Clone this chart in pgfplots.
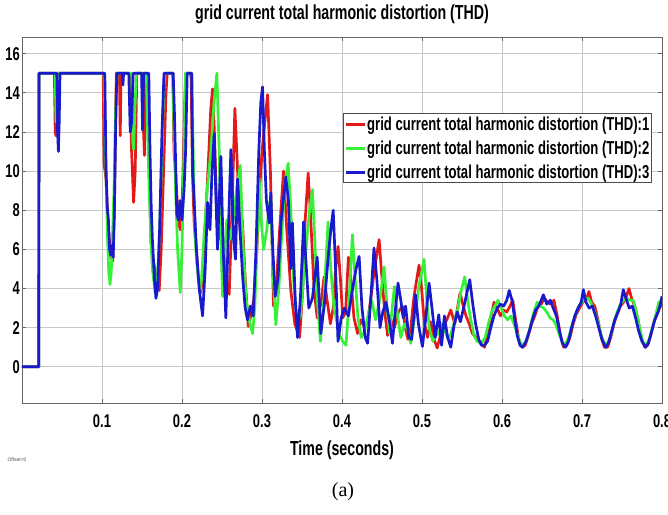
\documentclass[border=0pt]{standalone}
\usepackage{fontspec}
\setmainfont{Liberation Sans}
\newfontfamily\scopefnt[FakeStretch=0.7]{Liberation Sans}
\newfontfamily\capfont{Liberation Serif}
\usepackage{pgfplots}
\usepackage{pgfplotstable}
\pgfplotsset{compat=1.18}
\definecolor{sred}{RGB}{228,25,25}
\definecolor{sgreen}{RGB}{55,240,55}
\definecolor{sblue}{RGB}{25,25,205}

\pgfplotstableread{
t v
0 0
0.021 0
0.0212 15
0.0405 15
0.0415 12
0.0425 11.8
0.0435 15
0.1015 15
0.1025 10.4
0.105 9.6
0.108 7
0.111 5.6
0.1135 5.4
0.1155 8
0.117 13
0.118 15
0.1218 15
0.1228 11.8
0.1238 15
0.1345 15
0.137 11
0.1395 8.4
0.1415 10
0.1435 15
0.150 15
0.1515 12.5
0.153 10.8
0.1545 15
0.157 15
0.159 10
0.1612 6.4
0.164 5.5
0.168 4.5
0.1715 3.9
0.174 6
0.177 10
0.180 14
0.1815 15
0.1885 15
0.190 11
0.192 9.9
0.194 8.5
0.196 7.3
0.198 7
0.200 8
0.2025 12
0.2045 15
0.2105 15
0.2115 14.7
0.213 10
0.2153 7.2
0.2175 6.3
0.2205 4.5
0.2236 3.8
0.227 5
0.230 8
0.233 10.5
0.236 13.2
0.2382 14.2
0.2405 12
0.243 8.5
0.246 6.5
0.249 7.2
0.252 6
0.255 4.5
0.259 3.7
0.2625 8
0.2661 13.2
0.269 10.5
0.2725 7
0.2755 7.5
0.279 4.5
0.2828 2.06
0.286 2.6
0.290 3.5
0.293 5.5
0.297 9
0.300 11
0.3035 12.5
0.307 13.9
0.3105 10
0.3144 3.1
0.318 4.2
0.322 7
0.3269 10.0
0.331 7
0.336 3.9
0.341 2.2
0.347 1.5
0.351 4
0.354 7.5
0.3577 9.9
0.361 7.5
0.365 4
0.369 2.5
0.3735 3.2
0.3777 4.6
0.381 3.5
0.3855 2.2
0.389 3
0.3925 5.2
0.3951 6.15
0.398 4.5
0.401 2.5
0.4045 2.8
0.408 5.6
0.411 4.5
0.415 2.5
0.4195 1.7
0.4235 2.4
0.4277 2.06
0.432 2.3
0.436 3.5
0.440 4.8
0.4464 6.5
0.450 4.5
0.4535 2.8
0.457 1.6
0.461 2.4
0.4655 2.0
0.4705 2.8
0.4755 3.1
0.479 2.0
0.4825 1.4
0.486 2.0
0.490 3.6
0.4963 5.2
0.4995 4.0
0.503 2.2
0.507 1.5
0.511 2.3
0.515 1.4
0.519 0.96
0.523 1.6
0.527 2.1
0.531 2.4
0.536 2.9
0.541 2.2
0.5476 3.77
0.551 3.2
0.555 2.6
0.559 2.2
0.563 1.7
0.568 1.5
0.573 1.2
0.578 1.0
0.583 1.8
0.587 2.7
0.590 3.3
0.594 3.0
0.598 2.6
0.602 2.9
0.606 2.8
0.610 3.1
0.6135 3.4
0.617 2.4
0.621 1.4
0.625 1.0
0.629 1.1
0.633 1.6
0.637 2.2
0.641 2.6
0.645 3.1
0.649 3.2
0.653 3.5
0.657 3.3
0.661 3.2
0.665 3.4
0.669 2.6
0.673 1.6
0.677 1.0
0.681 1.1
0.685 1.5
0.689 2.2
0.693 2.7
0.697 3.0
0.701 3.3
0.705 3.4
0.7087 3.85
0.712 3.3
0.716 3.1
0.720 2.4
0.724 1.5
0.728 1.0
0.732 1.0
0.736 1.5
0.740 2.2
0.744 2.7
0.748 3.1
0.752 3.3
0.7555 3.6
0.7587 4.0
0.762 3.5
0.766 3.1
0.770 2.4
0.774 1.5
0.7785 1.0
0.782 1.1
0.786 1.6
0.790 2.3
0.794 2.7
0.797 3.0
0.800 3.2
}\redtab

\pgfplotstableread{
t v
0 0
0.021 0
0.0212 15
0.0415 15
0.0425 12.5
0.0435 15
0.1025 15
0.104 12
0.1055 9
0.107 6.5
0.1085 4.8
0.110 4.2
0.1115 4.8
0.113 6.5
0.115 9
0.117 13
0.119 15
0.137 15
0.1385 11.5
0.1395 11.1
0.141 13
0.143 15
0.1555 15
0.157 12
0.159 9
0.161 6.5
0.163 5
0.1665 3.8
0.169 4.3
0.172 7
0.175 11
0.177 14
0.1785 15
0.1885 15
0.190 12
0.192 9
0.1945 6
0.1978 3.8
0.200 6
0.2025 11
0.2045 15
0.2125 15
0.214 11
0.216 7
0.218 5.5
0.2205 4.5
0.2225 3.8
0.2245 4.5
0.228 7
0.232 9.3
0.236 11
0.240 13.5
0.2436 15
0.2465 11
0.249 6
0.2507 3.6
0.253 5.5
0.256 7.5
0.260 6.5
0.264 7.5
0.268 9
0.2728 10.3
0.276 6.5
0.280 3.5
0.2845 2.3
0.2882 1.7
0.291 3
0.2935 6
0.2965 9.6
0.299 7.5
0.302 6
0.306 7
0.309 8.2
0.311 8.7
0.3135 5
0.3173 2.15
0.321 4
0.325 7
0.329 9.5
0.3327 10.4
0.336 8
0.340 4
0.344 2.3
0.348 2.6
0.352 4.5
0.356 6.5
0.3595 8
0.363 9.05
0.366 6.5
0.369 3.5
0.373 1.3
0.3775 3.5
0.3826 7.4
0.386 5
0.390 3
0.394 2.2
0.397 1.6
0.401 1.3
0.405 1.1
0.409 3.5
0.413 6.75
0.4165 4.5
0.420 2.5
0.424 1.5
0.428 1.8
0.432 2.5
0.437 3.4
0.442 2.4
0.4475 3.5
0.4526 5.1
0.456 3.2
0.4595 1.7
0.4655 4.1
0.4695 2.6
0.4735 1.5
0.478 2.2
0.482 1.9
0.486 1.2
0.491 2.6
0.4965 4.2
0.5026 5.5
0.506 3.4
0.509 2
0.5135 1.3
0.517 1.6
0.521 1.7
0.525 2.2
0.529 1.8
0.533 1.4
0.537 1.8
0.541 2.4
0.545 3
0.549 3.9
0.5534 4.6
0.557 3.4
0.561 2.4
0.565 1.6
0.569 1.3
0.574 1.2
0.579 1.5
0.583 2.2
0.587 2.8
0.591 3.1
0.595 3.4
0.599 3.0
0.603 2.6
0.607 2.4
0.611 2.6
0.615 2.2
0.619 1.7
0.623 1.2
0.627 1.1
0.631 1.4
0.635 2.0
0.639 2.7
0.644 3.3
0.648 3.1
0.652 3.0
0.656 2.8
0.660 2.5
0.664 2.4
0.668 2.1
0.672 1.6
0.676 1.2
0.680 1.2
0.684 1.6
0.688 2.2
0.692 2.7
0.696 3.1
0.700 3.3
0.704 3.5
0.708 3.5
0.712 3.2
0.716 2.8
0.720 2.3
0.724 1.6
0.728 1.2
0.732 1.2
0.736 1.6
0.740 2.3
0.744 2.8
0.748 3.2
0.752 3.4
0.756 3.5
0.760 3.4
0.764 3.4
0.768 2.8
0.772 2.0
0.776 1.3
0.780 1.1
0.784 1.4
0.788 2.0
0.792 2.6
0.796 3.3
0.800 3.4
}\greentab

\pgfplotstableread{
t v
0 0
0.021 0
0.0212 15
0.0435 15
0.0445 12
0.0455 11
0.0465 12.5
0.0475 15
0.1035 15
0.105 10.2
0.1065 8.2
0.108 7.5
0.1095 6
0.111 5.7
0.1125 6.2
0.114 5.6
0.1155 8
0.117 12
0.1185 15
0.1255 15
0.1262 14.4
0.127 15
0.1335 15
0.1353 12
0.137 12.5
0.139 15
0.1495 15
0.1507 12.1
0.152 15
0.1585 15
0.160 11
0.1615 8.2
0.163 6.5
0.1655 4.5
0.1674 3.5
0.1695 4
0.172 7
0.175 12
0.1775 15
0.189 15
0.1905 13
0.192 10.5
0.1935 7.8
0.1955 7.5
0.1975 8.5
0.200 7.5
0.2025 9
0.2045 11
0.2065 15
0.212 15
0.2135 10
0.2155 8.2
0.218 6
0.2215 4
0.2257 2.6
0.229 5
0.232 8.4
0.235 7
0.2375 10
0.2403 11.9
0.2425 8.5
0.2444 6.0
0.2465 8.5
0.2486 10.75
0.2515 6
0.2548 2.5
0.258 7
0.2611 11.1
0.2645 6.5
0.2669 5.5
0.2694 9.6
0.2725 7
0.276 4.5
0.279 3
0.2819 2.4
0.2855 3.1
0.289 2.6
0.2925 6
0.296 11
0.2985 13.5
0.3007 14.3
0.303 11
0.3055 8.5
0.309 7.35
0.311 8.9
0.3135 6
0.3165 3.6
0.320 4.5
0.324 7.5
0.3298 9.7
0.333 8.5
0.336 5
0.338 7.35
0.3415 3.5
0.3444 1.5
0.348 3.5
0.352 7.4
0.3555 5
0.3585 3
0.363 3.5
0.369 5.6
0.3735 1.7
0.378 3.2
0.3825 5.5
0.386 7
0.389 8.0
0.392 5
0.395 1.3
0.399 2.5
0.403 3
0.408 2.6
0.4125 3.8
0.4175 5
0.4214 5.64
0.425 3
0.429 1.5
0.432 1.2
0.436 3.5
0.440 6.07
0.4435 4.5
0.4475 2
0.451 2.8
0.455 3.3
0.4595 2.3
0.463 1.2
0.466 2.6
0.470 4.28
0.4735 3.4
0.4765 2.5
0.4795 3.1
0.4835 1.5
0.487 1.4
0.490 2.6
0.492 3.68
0.4955 2.2
0.5005 1.04
0.5045 2.4
0.5088 4.28
0.5125 3
0.5165 1.5
0.521 2.66
0.5245 1.1
0.528 2.6
0.532 1.5
0.536 1.0
0.540 2.1
0.544 2.8
0.548 2.3
0.552 3
0.5597 4.45
0.5635 3.2
0.567 2.2
0.571 1.4
0.5745 1.1
0.578 1.1
0.582 1.3
0.586 2.0
0.590 2.6
0.594 3.0
0.598 3.2
0.602 3.1
0.606 3.4
0.609 3.9
0.6125 3.4
0.616 2.4
0.619 1.6
0.6225 1.1
0.626 1.0
0.630 1.3
0.634 1.8
0.638 2.4
0.642 2.9
0.646 3.1
0.6517 3.68
0.656 3.2
0.6605 3.4
0.664 3.0
0.668 2.6
0.672 1.8
0.6755 1.2
0.6795 1.0
0.683 1.3
0.687 2.0
0.691 2.6
0.695 3.0
0.699 3.3
0.7017 3.94
0.705 3.3
0.709 3.0
0.713 3.1
0.717 2.6
0.721 2.0
0.725 1.4
0.7295 1.0
0.733 1.2
0.737 1.8
0.741 2.4
0.745 2.8
0.7485 3.2
0.7516 3.94
0.755 3.5
0.759 3.0
0.763 3.1
0.767 2.5
0.771 1.8
0.775 1.3
0.7795 1.0
0.783 1.2
0.787 1.8
0.791 2.4
0.795 2.8
0.798 3.2
0.800 3.6
}\bluetab

\begin{document}
\begin{tikzpicture}
\path[use as bounding box] (-22pt,-111pt) rectangle (646pt,403pt);
\begin{axis}[
  at={(0pt,0pt)}, anchor=south west,
  scale only axis, width=640pt, height=366pt,
  xmin=0, xmax=0.8, ymin=-1.85, ymax=16.85,
  xtick={0.1,0.2,0.3,0.4,0.5,0.6,0.7,0.8},
  xticklabels={0.1,0.2,0.3,0.4,0.5,0.6,0.7,0.8},
  ytick={0,2,4,6,8,10,12,14,16},
  yticklabels={0,2,4,6,8,10,12,14,16},
  grid=major,
  major grid style={black!22, line width=0.7pt},
  axis line style={black!60, line width=0.9pt},
  tick style={black!60, line width=0.7pt},
  tick align=inside, major tick length=4pt,
  /pgf/number format/assume math mode=true,
  xticklabel style={font=\scopefnt\bfseries\fontsize{18.5}{18.5}\selectfont, inner sep=0pt, anchor=north, yshift=-11pt},
  yticklabel style={font=\scopefnt\bfseries\fontsize{18.5}{18.5}\selectfont, inner sep=0pt, anchor=east, xshift=-2pt},
  title={grid current total harmonic distortion (THD)},
  title style={font=\scopefnt\bfseries\fontsize{20.3}{20.3}\selectfont, at={(0.5,1)}, anchor=base, yshift=11pt, inner sep=0pt},
  xlabel={Time (seconds)},
  xlabel style={font=\scopefnt\bfseries\fontsize{20.3}{20.3}\selectfont, at={(0.5,0)}, anchor=center, yshift=-47pt, inner sep=0pt},
  legend style={at={(0.984,0.792)}, anchor=north east, draw=black!70, line width=0.8pt,
    font=\scopefnt\bfseries\fontsize{18.7}{20}\selectfont, inner xsep=1pt, inner ysep=3pt,
    row sep=9pt, nodes={inner xsep=1pt, inner ysep=0pt}},
  legend cell align=left,
  legend image code/.code={\draw[#1, line width=3pt] (0pt,0pt) -- (19pt,0pt);},
]
\addplot[sred, line width=2.7pt, line join=round] table[x=t, y=v] {\redtab};
\addlegendentry{grid current total harmonic distortion (THD):1}
\addplot[sgreen, line width=2.7pt, line join=round] table[x=t, y=v] {\greentab};
\addlegendentry{grid current total harmonic distortion (THD):2}
\addplot[sblue, line width=2.7pt, line join=round] table[x=t, y=v] {\bluetab};
\addlegendentry{grid current total harmonic distortion (THD):3}
\end{axis}
\node[font=\fontsize{5}{5}\selectfont, anchor=west, text=black!70] at (-18pt,-57pt) {Offset=0};
\node[font=\capfont\fontsize{20}{20}\selectfont] at (321pt,-89pt) {(a)};
\end{tikzpicture}
\end{document}
